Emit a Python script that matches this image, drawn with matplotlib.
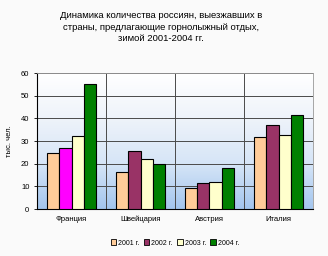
import matplotlib
matplotlib.use("Agg")
import matplotlib.pyplot as plt
import numpy as np
from matplotlib.colors import LinearSegmentedColormap

plt.rcParams['font.family'] = ['Liberation Sans', 'DejaVu Sans']

countries = ["Франция", "Швейцария", "Австрия", "Италия"]
years = ["2001 г.", "2002 г.", "2003 г.", "2004 г."]
v2001 = [24.5, 16.2, 9.1, 31.6]
v2002 = [26.7, 25.5, 11.5, 37.0]
v2003 = [32.0, 22.0, 11.9, 32.5]
v2004 = [55.0, 20.0, 18.0, 41.4]
series = [v2001, v2002, v2003, v2004]
colors = ["#FFCC99", "#993366", "#FFFFCC", "#008000"]
france_2002 = "#FF00FF"

fig = plt.figure(figsize=(3.28, 2.56), dpi=100)
fig.patch.set_facecolor("#FAFAFA")
ax = fig.add_axes([37/328, 1 - 209/256, (313-37)/328, (209-73)/256])

# gradient background: white at top, light blue at bottom
cmap = LinearSegmentedColormap.from_list("bg", ["#FFFFFF", "#EEF3FA", "#D6E5F7", "#A4C6EE"])
grad = np.linspace(0, 1, 100).reshape(-1, 1)
ax.imshow(grad, aspect="auto", cmap=cmap, extent=[-0.5, 3.5, 0, 60], zorder=0)

x = np.arange(len(countries))
w = 0.18
for i, vals in enumerate(series):
    cols = [colors[i]] * len(vals)
    if i == 1:
        cols[0] = france_2002
    ax.bar(x + (i - 1.5) * w, vals, w, color=cols, edgecolor="black",
           linewidth=0.8, zorder=3, label=years[i])

ax.set_xlim(-0.5, 3.5)
ax.set_ylim(0, 60)
ax.set_yticks(range(0, 61, 10))
ax.set_xticks(x)
ax.set_xticklabels(countries, fontsize=5.5)
ax.tick_params(axis="y", labelsize=5.5, length=2, width=0.6)
ax.tick_params(axis="x", length=0, pad=5)
for y in range(10, 61, 10):
    ax.axhline(y, color="#4A4A4A", linewidth=0.7, zorder=1)
for xs in [0.5, 1.5, 2.5]:
    ax.axvline(xs, color="#4A4A4A", linewidth=0.7, zorder=1)
for s in ["top", "right"]:
    ax.spines[s].set_color("#999999")
    ax.spines[s].set_linewidth(0.6)
ax.spines["left"].set_linewidth(0.8)
ax.spines["bottom"].set_linewidth(0.8)
ax.set_ylabel("тыс. чел.", fontsize=5.5, labelpad=6)

fig.text(0.49, 1 - 27/256, "Динамика количества россиян, выезжавших в\nстраны, предлагающие горнолыжный отдых,\nзимой 2001-2004 гг.",
         ha="center", va="center", fontsize=6.8, linespacing=1.38)

handles = [plt.Rectangle((0, 0), 1, 1, facecolor=c, edgecolor="black", linewidth=0.6) for c in colors]
fig.legend(handles, years, loc="center", bbox_to_anchor=(175/328, 1 - 243/256), ncol=4,
           fontsize=5, frameon=False, handlelength=0.8, handleheight=0.8,
           handletextpad=0.3, columnspacing=0.6)

fig.savefig("out.png", dpi=100, facecolor=fig.get_facecolor())
